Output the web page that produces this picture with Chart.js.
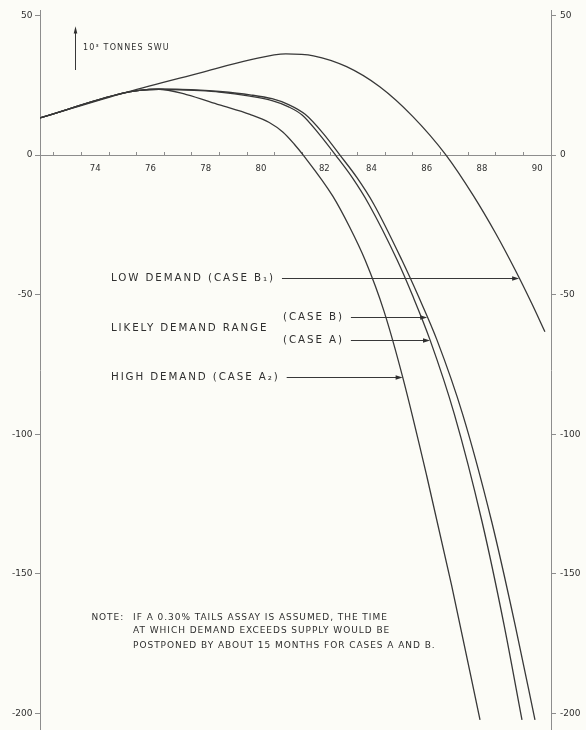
<!DOCTYPE html>
<html>
<head>
<meta charset="utf-8">
<title>Enrichment supply minus demand</title>
<script src="https://cdn.jsdelivr.net/npm/chart.js@4/dist/chart.umd.min.js"></script>
<style>
  html, body { margin: 0; padding: 0; background: #fcfcf7; }
  canvas { display: block; }
</style>
</head>
<body>
<canvas id="chart" width="586" height="730"></canvas>
<script>
// Surplus (+) or shortfall (-) of enrichment capacity, 10^3 tonnes SWU, by year (19xx)

// Low demand (case B1)
const lowDemandYears  = [72, 75.15, 77.8, 79.6, 80.9, 81.9, 83.1, 84.3, 85.5, 86.7, 87.7, 88.5, 89.2, 89.8, 90.28];
const lowDemandValues = [13.3, 22.6, 29.5, 34.1, 36.3, 35.6, 31.7, 24.5, 13.8, 0, -14.7, -28.1, -41.1, -53.1, -63.3];

// Likely demand range, lower bound (case B)
const caseBYears  = [72, 75.0, 75.6, 76.3, 77.8, 78.5, 79.6, 80.4, 81.0, 81.6, 82.25, 82.86, 83.47, 84.08, 85.1, 85.7, 86.37, 87.3, 88.35, 89.2, 89.92];
const caseBValues = [13.3, 22.2, 23.2, 23.6, 23.3, 22.8, 21.6, 20.2, 18.1, 14.6, 7.8, 0, -8.0, -17.5, -37.6, -50.6, -66.2, -92.8, -131.2, -168.3, -202.4];

// Likely demand range, upper bound (case A)
const caseAYears  = [72, 75.0, 75.6, 76.3, 77.8, 78.5, 79.6, 80.4, 81.0, 81.5, 82.1, 82.7, 83.3, 83.9, 84.93, 85.5, 86.12, 87.0, 88.0, 88.8, 89.45];
const caseAValues = [13.3, 22.2, 23.2, 23.6, 23.1, 22.6, 21.1, 19.5, 17.3, 14.3, 7.6, 0, -8.0, -17.5, -37.6, -50.6, -66.2, -92.8, -131.2, -168.3, -202.4];

// High demand (case A2)
const highDemandYears  = [72, 75.0, 75.6, 76.3, 77.3, 78.5, 79.6, 80.3, 80.8, 81.2, 81.53, 82.6, 83.2, 83.77, 84.45, 85.14, 86.0, 86.9, 87.93];
const highDemandValues = [13.3, 22.2, 23.2, 23.6, 21.7, 18.0, 14.6, 11.7, 8.2, 4.0, 0, -14.7, -25.6, -37.6, -55.8, -79.9, -114.9, -154.1, -202.4];

// Axis ticks
const xLabelYears = [74, 76, 78, 80, 82, 84, 86, 88, 90];
const xTickMarks  = [72.5, 73.5, 74.5, 75.5, 76.5, 77.5, 78.5, 79.5, 80.5, 81.5, 82.5, 83.5, 84.5, 85.5, 86.5, 87.5, 88.5, 89.5];
const yTickValues = [-200, -150, -100, -50, 0, 50];

// Annotation text
const unitLabel = '10³ TONNES SWU';
const lowLabel = 'LOW DEMAND (CASE B₁)';
const rangeLabel = 'LIKELY DEMAND RANGE';
const caseBLabel = '(CASE B)';
const caseALabel = '(CASE A)';
const highLabel = 'HIGH DEMAND (CASE A₂)';
const noteHead = 'NOTE:';
const noteLines = [
  'IF A 0.30% TAILS ASSAY IS ASSUMED, THE TIME',
  'AT WHICH DEMAND EXCEEDS SUPPLY WOULD BE',
  'POSTPONED BY ABOUT 15 MONTHS FOR CASES A AND B.'
];

const ink = '#383838';
const textInk = '#2f2f2f';
const axisInk = '#8d8d8d';
const paper = '#fcfcf7';
const font = '"DejaVu Sans", sans-serif';

const toPoints = (xs, ys) => xs.map((x, i) => ({ x, y: ys[i] }));

const curve = (label, xs, ys) => ({
  label,
  data: toPoints(xs, ys),
  borderColor: ink,
  borderWidth: 1.3,
  pointRadius: 0,
  fill: false,
  cubicInterpolationMode: 'monotone'
});

// Year at which a descending curve reaches the given value
function yearAt(xs, ys, v) {
  for (let i = ys.length - 1; i > 0; i--) {
    if (ys[i] <= v && ys[i - 1] >= v) {
      const t = (ys[i - 1] - v) / (ys[i - 1] - ys[i]);
      return xs[i - 1] + t * (xs[i] - xs[i - 1]);
    }
  }
  return xs[xs.length - 1];
}

function arrowRight(ctx, x1, x2, y) {
  ctx.beginPath();
  ctx.moveTo(x1, y);
  ctx.lineTo(x2 - 5, y);
  ctx.stroke();
  ctx.beginPath();
  ctx.moveTo(x2, y);
  ctx.lineTo(x2 - 7, y - 2.2);
  ctx.lineTo(x2 - 7, y + 2.2);
  ctx.closePath();
  ctx.fill();
}

const paperPlugin = {
  id: 'paper',
  beforeDraw(chart) {
    const { ctx, width, height } = chart;
    ctx.save();
    ctx.fillStyle = paper;
    ctx.fillRect(0, 0, width, height);
    ctx.restore();
  }
};

const annotations = {
  id: 'annotations',
  afterDraw(chart) {
    const { ctx } = chart;
    const xs = chart.scales.x, ys = chart.scales.y;
    const X = v => xs.getPixelForValue(v);
    const Y = v => ys.getPixelForValue(v);

    ctx.save();
    ctx.fillStyle = textInk;
    ctx.strokeStyle = ink;
    ctx.lineWidth = 1;
    ctx.textBaseline = 'middle';
    ctx.textAlign = 'left';

    // Unit label with upward arrow
    const ax = Math.round(X(73.27)) + 0.5;
    ctx.beginPath();
    ctx.moveTo(ax, Y(30.5));
    ctx.lineTo(ax, Y(44.5));
    ctx.stroke();
    ctx.beginPath();
    ctx.moveTo(ax, Y(46.2));
    ctx.lineTo(ax - 1.8, Y(43.6));
    ctx.lineTo(ax + 1.8, Y(43.6));
    ctx.closePath();
    ctx.fill();
    ctx.font = '8px ' + font;
    ctx.letterSpacing = '1.15px';
    ctx.fillText(unitLabel, X(73.56), Y(38.4));

    // Case labels with arrows pointing at their curves
    ctx.font = '10.3px ' + font;
    ctx.letterSpacing = '1.9px';
    const gap = 7;
    const labelled = (text, year, value, tipYear) => {
      const x0 = X(year);
      const y0 = Math.round(Y(value)) + 0.5;
      ctx.fillText(text, x0, y0);
      if (tipYear !== null) {
        const w = ctx.measureText(text).width;
        arrowRight(ctx, x0 + w + gap, X(tipYear), y0);
      }
    };
    labelled(lowLabel, 74.57, -44.0, yearAt(lowDemandYears, lowDemandValues, -44.0));
    labelled(caseBLabel, 80.8, -58.0, yearAt(caseBYears, caseBValues, -58.0));
    labelled(rangeLabel, 74.57, -62.0, null);
    labelled(caseALabel, 80.8, -66.2, yearAt(caseAYears, caseAValues, -66.2));
    labelled(highLabel, 74.57, -79.5, yearAt(highDemandYears, highDemandValues, -79.5));

    // Note
    ctx.font = '9px ' + font;
    ctx.letterSpacing = '0.95px';
    ctx.fillText(noteHead, X(73.86), Y(-165.6));
    const noteRows = [-165.6, -170.5, -175.8];
    noteLines.forEach((line, i) => ctx.fillText(line, X(75.37), Y(noteRows[i])));

    ctx.restore();
  }
};

new Chart(document.getElementById('chart'), {
  type: 'line',
  data: {
    datasets: [
      curve('Low demand (case B1)', lowDemandYears, lowDemandValues),
      curve('Case B', caseBYears, caseBValues),
      curve('Case A', caseAYears, caseAValues),
      curve('High demand (case A2)', highDemandYears, highDemandValues)
    ]
  },
  options: {
    responsive: false,
    animation: false,
    events: [],
    layout: { padding: { top: 10, bottom: 0, left: 0, right: 0 } },
    plugins: {
      legend: { display: false },
      tooltip: { enabled: false },
      title: { display: false }
    },
    scales: {
      x: {
        type: 'linear',
        position: { y: 0 },
        min: 72,
        max: 90.5,
        afterBuildTicks: s => {
          s.ticks = [...xTickMarks, ...xLabelYears].sort((a, b) => a - b).map(v => ({ value: v }));
        },
        afterFit: s => { s.paddingLeft = 0; s.paddingRight = 0; },
        ticks: {
          autoSkip: false,
          maxRotation: 0,
          padding: 12.5,
          color: textInk,
          font: { family: font, size: 8.5 },
          callback: v => xLabelYears.includes(v) ? (v === 82 ? '\u2007\u2007\u2007' + v : String(v)) : ''
        },
        grid: {
          drawOnChartArea: false,
          tickLength: -4,
          tickColor: ctx => (ctx.tick && xTickMarks.includes(ctx.tick.value)) ? axisInk : 'rgba(0,0,0,0)'
        },
        border: { color: axisInk, width: 1 }
      },
      y: {
        type: 'linear',
        position: 'left',
        min: -206,
        max: 52,
        afterBuildTicks: s => { s.ticks = yTickValues.map(v => ({ value: v })); },
        afterFit: s => { s.width = 40; s.paddingTop = 0; s.paddingBottom = 0; },
        ticks: {
          padding: 2.5,
          color: textInk,
          font: { family: font, size: 9 }
        },
        grid: { drawOnChartArea: false, tickLength: 5, tickColor: axisInk },
        border: { color: axisInk, width: 1 }
      },
      y2: {
        type: 'linear',
        position: 'right',
        min: -206,
        max: 52,
        afterBuildTicks: s => { s.ticks = yTickValues.map(v => ({ value: v })); },
        afterFit: s => { s.width = 35; s.paddingTop = 0; s.paddingBottom = 0; },
        ticks: {
          padding: 4,
          color: textInk,
          font: { family: font, size: 9 }
        },
        grid: { drawOnChartArea: false, tickLength: 5, tickColor: axisInk },
        border: { color: axisInk, width: 1 }
      }
    }
  },
  plugins: [paperPlugin, annotations]
});
</script>
</body>
</html>
